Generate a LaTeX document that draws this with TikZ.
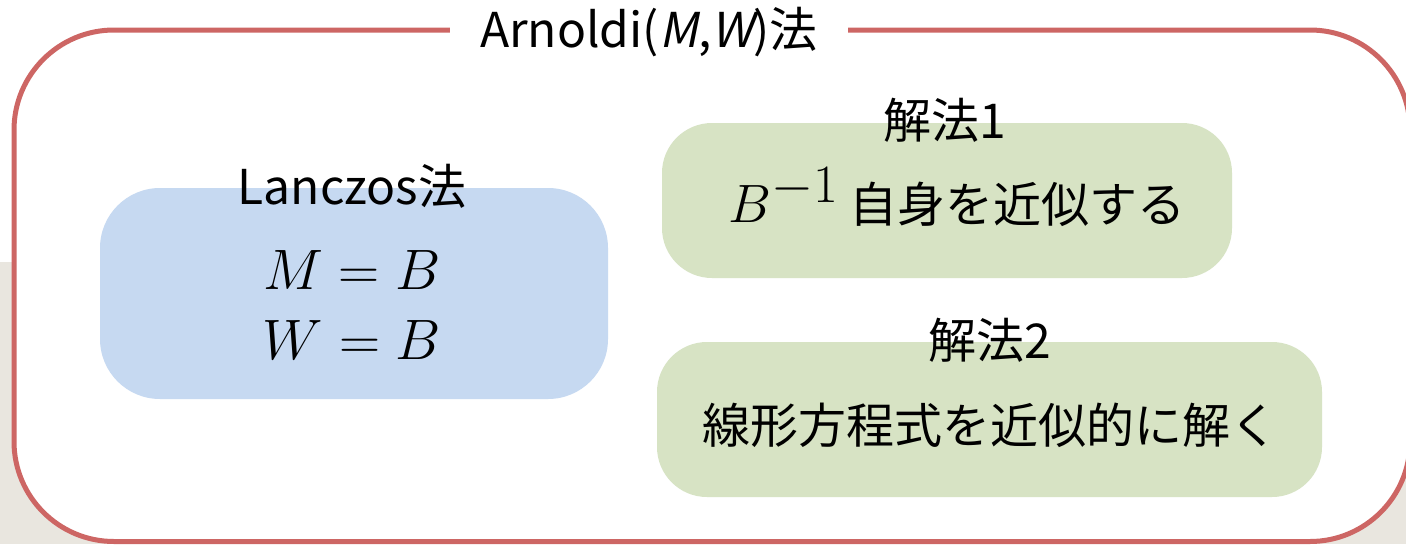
\RequirePackage{fix-cm}
\documentclass[tikz,border=0pt]{standalone}
\usepackage{fontspec}
\setmainfont{Noto Sans CJK JP}
\newfontfamily\slantfont[FakeSlant=0.2]{Noto Sans CJK JP}
\definecolor{framered}{RGB}{205,102,100}
\definecolor{boxblue}{RGB}{198,217,241}
\definecolor{boxgreen}{RGB}{215,227,196}
\definecolor{beige}{RGB}{233,230,223}
\tikzset{
  lbl/.style={font=\fontsize{48}{56}\selectfont, inner sep=0pt},
  mathtxt/.style={font=\fontsize{57}{64}\selectfont, inner sep=0pt},
  greenbox/.style={fill=boxgreen, rounded corners=50pt, minimum height=155pt, inner sep=0pt},
}
\begin{document}
\begin{tikzpicture}[x=1pt,y=-1pt]
\useasboundingbox (0,0) rectangle (1406,544);
\fill[beige] (0,262) rectangle (1406,544);
\draw[framered, line width=5pt, fill=white, rounded corners=100pt] (14,30) rectangle (1410,541.5);
\node[fill=white, inner xsep=30pt, inner ysep=4pt, font=\fontsize{48}{56}\selectfont] (title) at (649,32) {Arnoldi({\slantfont M},{\slantfont W})法};
% Lanczos
\node[fill=boxblue, rounded corners=60pt, minimum width=508pt, minimum height=211pt, inner sep=0pt] (lz) at (354,293.5) {};
\node[lbl] (lzl) at (352,186) {Lanczos法};
\node[mathtxt] (m1) at (352,270) {$M=B$};
\node[mathtxt] (m2) at (352,340) {$W=B$};
% method 1
\node[greenbox, minimum width=570pt] (g1) at (947,200.5) {};
\node[lbl] (g1l) at (945,120) {解法1};
\node[lbl, anchor=base west] (g1t) at (728,222) {{\fontsize{54}{60}\selectfont$B^{\textstyle -1}$} 自身を近似する};
% method 2
\node[greenbox, minimum width=665pt] (g2) at (989.5,419.5) {};
\node[lbl] (g2l) at (990,340) {解法2};
\node[lbl] (g2t) at (990,425) {線形方程式を近似的に解く};
\end{tikzpicture}
\end{document}
